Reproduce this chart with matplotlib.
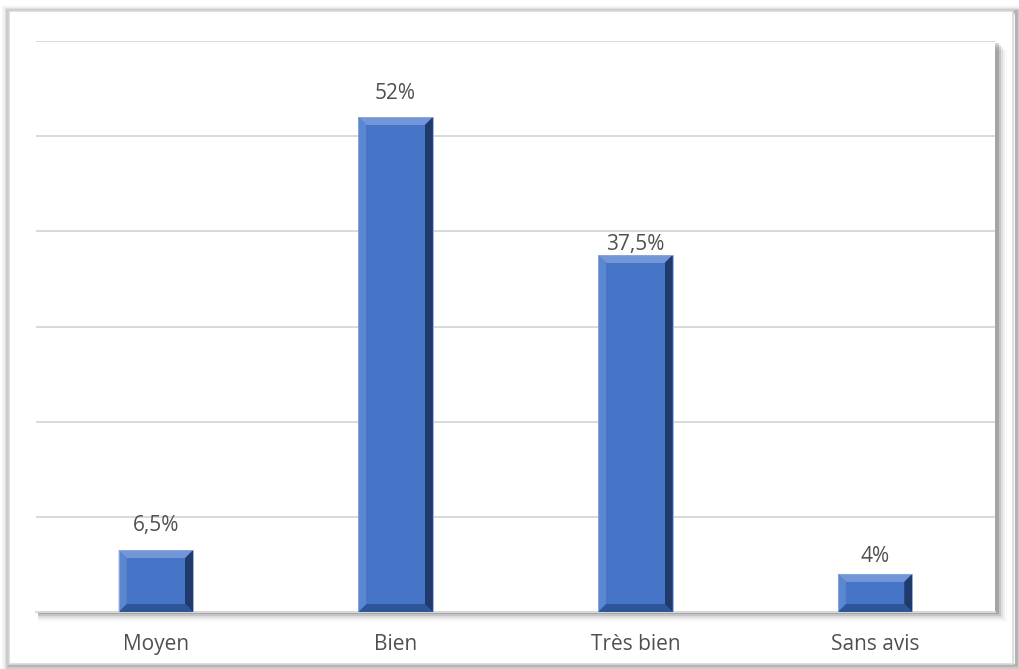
import matplotlib.pyplot as plt
from matplotlib.patches import Rectangle, Polygon
import numpy as np

# chart data
categories = ['Moyen', 'Bien', 'Très bien', 'Sans avis']
values = [6.5, 52, 37.5, 4]
labels = ['6,5%', '52%', '37,5%', '4%']
label_pad = [14, 13, 0, 7]  # px gap between bar top and label box

W, H, DPI = 1019, 669, 100
fig = plt.figure(figsize=(W / DPI, H / DPI), dpi=DPI)
fig.patch.set_facecolor('white')

# outer frame with soft shadow
for i, a in enumerate([0.12, 0.09, 0.06, 0.04, 0.02]):
    fig.patches.append(Rectangle(((9 - i * 0.6) / W, (4 - i) / H), (1007 + i * 1.6) / W, (654 + i) / H,
                                 transform=fig.transFigure, facecolor='none',
                                 edgecolor=(0, 0, 0, a), linewidth=2 + i * 1.6, zorder=0))
fig.patches.append(Rectangle((9 / W, 5 / H), 1004 / W, 653 / H, transform=fig.transFigure,
                             facecolor='white', edgecolor='#D9D9D9', linewidth=1.2, zorder=0.5))

# plot area
left, right, top, bottom = 36, 995, 41, 612
ax = fig.add_axes([left / W, (H - bottom) / H, (right - left) / W, (bottom - top) / H])
ax.set_zorder(2)

# inner panel shadow (right and bottom)
for i, a in enumerate([0.16, 0.11, 0.07, 0.04, 0.02]):
    fig.patches.append(Rectangle(((left + 2) / W, (H - bottom - 2 - i * 2) / H),
                                 (right - left + 2 + i * 2) / W, (bottom - top) / H,
                                 transform=fig.transFigure, facecolor=(0, 0, 0, a),
                                 edgecolor='none', zorder=1))
fig.patches.append(Rectangle((left / W, (H - bottom) / H), (right - left) / W, (bottom - top) / H,
                             transform=fig.transFigure, facecolor='white', edgecolor='none', zorder=1.5))
ax.patch.set_alpha(0)

x = np.arange(len(categories))
bar_w = 0.31
ax.set_xlim(-0.5, len(categories) - 0.5)
ax.set_ylim(0, 60)
ax.set_yticks(np.arange(0, 61, 10))
ax.yaxis.grid(True, color='#D9D9D9', linewidth=1.4)
ax.set_axisbelow(True)
for s in ['left', 'right', 'top']:
    ax.spines[s].set_visible(False)
ax.spines['bottom'].set_color('#D9D9D9')
ax.spines['bottom'].set_linewidth(1.4)
ax.tick_params(axis='y', left=False, labelleft=False)
ax.tick_params(axis='x', length=0, pad=16, labelsize=15, labelcolor='#505050')
ax.set_xticks(x)
ax.set_xticklabels(categories, fontfamily='Open Sans')

bars = ax.bar(x, values, width=bar_w, color='#4472C4', zorder=3)

# bevel effect
px_x = 4 / (right - left)     # data units per px in x
px_y = 60 / (bottom - top)    # data units per px in y
bev = 8
for b in bars:
    x0, w, h = b.get_x(), b.get_width(), b.get_height()
    x1 = x0 + w
    dx = bev * px_x
    dy = min(bev * px_y, h / 2.2)
    faces = [
        ([(x0, h), (x1, h), (x1 - dx, h - dy), (x0 + dx, h - dy)], '#7396D8'),
        ([(x0, 0), (x0, h), (x0 + dx, h - dy), (x0 + dx, dy)], '#5B86D0'),
        ([(x1, 0), (x1, h), (x1 - dx, h - dy), (x1 - dx, dy)], '#1F3A6B'),
        ([(x0, 0), (x1, 0), (x1 - dx, dy), (x0 + dx, dy)], '#2E5597'),
    ]
    for pts, c in faces:
        ax.add_patch(Polygon(pts, closed=True, facecolor=c, edgecolor='none', zorder=4))
    ax.add_patch(Rectangle((x0 + dx, dy), w - 2 * dx, h - 2 * dy, facecolor='#4674C6',
                           edgecolor='none', zorder=4))
    ax.add_patch(Rectangle((x0, 0), w, h, facecolor='none', edgecolor='#8FAADC',
                           linewidth=0.6, zorder=5))

for xi, v, lab, p in zip(x, values, labels, label_pad):
    ax.annotate(lab, (xi, v), xytext=(0, p * 72 / DPI), textcoords='offset points',
                ha='center', va='bottom', fontsize=15, color='#505050', fontfamily='Open Sans')

fig.savefig('out.png', dpi=DPI)
